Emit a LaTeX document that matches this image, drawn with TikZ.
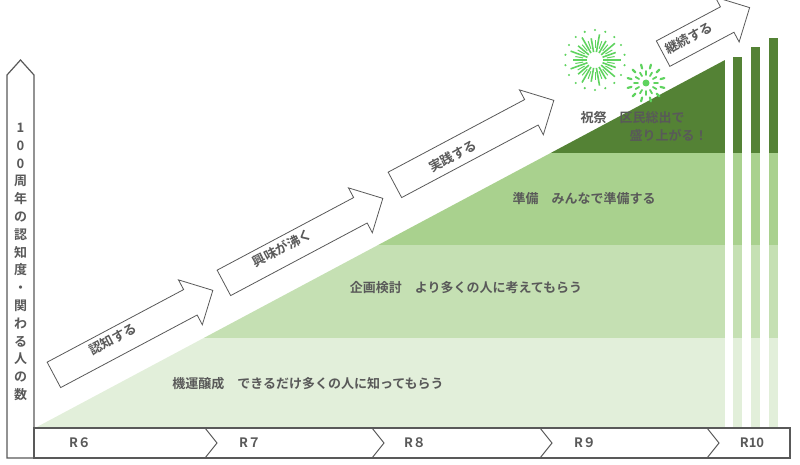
\documentclass[tikz,border=0pt]{standalone}
\usepackage{fontspec}
\setmainfont{Noto Sans CJK JP}[BoldFont={Noto Sans CJK JP Bold}]
\usetikzlibrary{shapes.arrows}
\definecolor{b1}{HTML}{E2EFDA}
\definecolor{b2}{HTML}{C5E0B3}
\definecolor{b3}{HTML}{A9D18E}
\definecolor{b4}{HTML}{548235}
\definecolor{fw}{HTML}{5FD35F}
\definecolor{tx}{HTML}{595959}
\definecolor{ln}{HTML}{595959}
\tikzset{
 lbl/.style={text=tx,font=\bfseries\fontsize{13}{15}\selectfont},
 sarrow/.style={single arrow,draw=ln,fill=white,line width=0.8pt,rotate=28,inner xsep=0pt,inner ysep=14pt,
   minimum width=50pt,single arrow head extend=11pt,single arrow head indent=0pt,anchor=center},
 alab/.style={lbl,rotate=28},
}
\begin{document}
\begin{tikzpicture}[x=1pt,y=-1pt]
\useasboundingbox (0,0) rectangle (800,465);
\begin{scope}
\clip (35,428) -- (725,60) -- (725,428) -- cycle;
\fill[b1] (35,338) rectangle (725,428);
\fill[b2] (35,245) rectangle (725,338);
\fill[b3] (35,153) rectangle (725,245);
\fill[b4] (35,40) rectangle (725,153);
\end{scope}
\foreach \xa/\xb/\t in {733/742/57, 751/760/47, 769/778/38}{
 \fill[b1] (\xa,338) rectangle (\xb,428);
 \fill[b2] (\xa,245) rectangle (\xb,338);
 \fill[b3] (\xa,153) rectangle (\xb,245);
 \fill[b4] (\xa,\t) rectangle (\xb,153);
}
\draw[ln,line width=1.2pt,fill=white] (7,458) -- (7,75) -- (20.5,60) -- (34,75) -- (34,458) -- cycle;
\node[lbl,align=center,inner sep=0pt,font=\bfseries\fontsize{13}{17.8}\selectfont] (yl) at (20.5,262)
 {1\\0\\0\\周\\年\\の\\認\\知\\度\\・\\関\\わ\\る\\人\\の\\数};
\draw[ln,line width=1.2pt,fill=white] (34,428) -- (790,428) -- (790,458) -- (34,458) -- cycle;
\foreach \x in {205,372,540,707}{
 \draw[ln,line width=1pt] (\x,428) -- (\x+12,443) -- (\x,458);
}
\foreach \x/\t [count=\i] in {80/R６,250/R７,415/R８,585/R９,752/R10}
 \node[lbl] (r\i) at (\x,443) {\t};
\node[lbl] (t1) at (308,384) {機運醸成　できるだけ多くの人に知ってもらう};
\node[lbl] (t2) at (466,288) {企画検討　より多くの人に考えてもらう};
\node[lbl] (t3) at (584,199) {準備　みんなで準備する};
\node[lbl,anchor=west] (t4) at (577,118) {祝祭　区民総出で};
\node[lbl,anchor=west] (t5) at (626,135) {盛り上がる！};
\node[sarrow,minimum height=180pt] (a1) at (127,336) {};
\node[sarrow,minimum height=180pt] (a2) at (297,244) {};
\node[sarrow,minimum height=180pt] (a3) at (468,146) {};
\node[sarrow,minimum height=98pt] (a4) at (700,34) {};
\node[alab] (l1) at (113,339) {認知する};
\node[alab] (l2) at (282,248) {興味が沸く};
\node[alab] (l3) at (453,156) {実践する};
\node[alab] (l4) at (689,38) {継続する};
\begin{scope}[fw,shift={(595,60)}]
\foreach \a/\r in {0/26,20/22,40/26,60/22,80/26,100/22,120/26,140/22,160/26,180/22,200/26,220/22,240/26,260/22,280/26,300/22,320/26,340/22}{
 \draw[line width=1.6pt] (\a:8) -- (\a:\r);
 \fill (\a+10:30) circle (1.2);
}
\foreach \a in {10,30,...,350}
 \draw[line width=1pt] (\a:12) -- (\a:20);
\end{scope}
\begin{scope}[fw,shift={(646,83)}]
\fill (0,0) circle (3.5);
\foreach \a in {0,30,...,330}{
 \draw[line width=1.8pt,line cap=round] (\a:8) -- (\a:12);
 \draw[line width=2.2pt,line cap=round] (\a+15:15) -- (\a+15:19);
}
\end{scope}
\end{tikzpicture}
\end{document}
